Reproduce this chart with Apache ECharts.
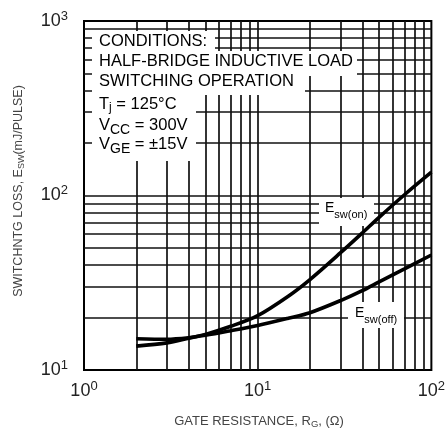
<!DOCTYPE html>
<html><head><meta charset="utf-8">
<script src="https://cdn.jsdelivr.net/npm/echarts@6/dist/echarts.min.js"></script>
<style>html,body{margin:0;padding:0;background:#fff}#c{width:448px;height:432px}</style>
</head><body><div id="c"></div>
<script>
// ---- data ----
const gateResistance = [2, 3, 4, 5, 7, 10, 15, 20, 30, 40, 50, 70, 100];
const esOn  = [13.7, 14.3, 15.2, 16.0, 17.8, 20.5, 26.5, 33, 47, 61, 75, 101, 136];
const esOff = [15.1, 15.0, 15.3, 15.8, 16.8, 18.0, 19.8, 21.3, 25, 28.5, 32, 38, 45.6];
const xTickValues = [1, 10, 100];
const xTickExps = ['0', '1', '2'];
const yTickValues = [10, 100, 1000];
const yTickExps = ['1', '2', '3'];
const xGridValues = [2, 3, 4, 5, 6, 7, 8, 9, 10, 20, 30, 40, 50, 60, 70, 80, 90];
const yGridValues = [20, 30, 40, 50, 60, 70, 80, 90, 100, 200, 300, 400, 500, 600, 700, 800, 900];
const conditionRows = [
  '{n|CONDITIONS:}',
  '{n|HALF-BRIDGE INDUCTIVE LOAD}',
  '{n|SWITCHING OPERATION}',
  '{n|T}{j|j}{n| = 125°C}',
  '{n|V}{s|CC}{n| = 300V}',
  '{n|V}{s|GE}{n| = ±15V}'
];
const xName = '{t|GATE RESISTANCE, R}{s|G}{t|, (Ω)}';
const yName = '{t|SWITCHNTG LOSS, E}{s|SW}{t|(mJ/PULSE)}';
const onLabel = '{e|E}{s|sw(on)}';
const offLabel = '{e|E}{s|sw(off)}';

// ---- chart ----
const FF = '"Liberation Sans", Arial, Helvetica, sans-serif';
const chart = echarts.init(document.getElementById('c'), null, {renderer: 'canvas'});
const tickRich = {
  a: {fontSize: 18, fontFamily: FF, color: '#222'},
  b: {fontSize: 13, fontFamily: FF, color: '#222', padding: [0, 0, 10, 0]}
};
function tickFmt(values, exps) {
  return function (v) {
    let best = 0;
    for (let i = 0; i < values.length; i++) {
      if (Math.abs(Math.log10(v) - Math.log10(values[i])) < Math.abs(Math.log10(v) - Math.log10(values[best]))) best = i;
    }
    return '{a|10}{b|' + exps[best] + '}';
  };
}
const condRich = {
  n: {fontSize: 16.5, fontFamily: FF, fill: '#000'},
  s: {fontSize: 14, fontFamily: FF, fill: '#000', padding: [10, 0, 0, 0]},
  j: {fontSize: 12, fontFamily: FF, fill: '#000', padding: [8, 0, 0, 0]}
};
const rowCenters = [41, 61, 81, 104, 125, 144];
const graphics = [
  {type: 'rect', z: 6, shape: {x: 92, y: 31, width: 123, height: 20}, style: {fill: '#fff'}},
  {type: 'rect', z: 6, shape: {x: 92, y: 51, width: 265, height: 25}, style: {fill: '#fff'}},
  {type: 'rect', z: 6, shape: {x: 92, y: 72, width: 213, height: 23}, style: {fill: '#fff'}},
  {type: 'rect', z: 6, shape: {x: 92, y: 95, width: 104, height: 66}, style: {fill: '#fff'}},
  {type: 'rect', z: 6, shape: {x: 319, y: 198, width: 55, height: 28}, style: {fill: '#fff'}},
  {type: 'rect', z: 6, shape: {x: 348, y: 302, width: 56, height: 26}, style: {fill: '#fff'}}
];
conditionRows.forEach(function (t, i) {
  graphics.push({type: 'text', z: 7, x: 99, y: rowCenters[i],
    style: {text: t, rich: condRich, textAlign: 'left', verticalAlign: 'middle', fill: '#000'}});
});
const labRich = {
  e: {fontSize: 14, fontFamily: FF, fill: '#000'},
  s: {fontSize: 11, fontFamily: FF, fill: '#000', padding: [14, 0, 0, 0]}
};
graphics.push({type: 'text', z: 7, x: 325, y: 208, style: {text: onLabel, rich: labRich, textAlign: 'left', verticalAlign: 'middle'}});
graphics.push({type: 'text', z: 7, x: 355, y: 313, style: {text: offLabel, rich: labRich, textAlign: 'left', verticalAlign: 'middle'}});
const nameRichX = {
  t: {fontSize: 13, fontFamily: FF, fill: '#444'},
  s: {fontSize: 9.5, fontFamily: FF, fill: '#444', padding: [6, 0, 0, 0]}
};
const nameRichY = {
  t: {fontSize: 12.5, fontFamily: FF, fill: '#444'},
  s: {fontSize: 9, fontFamily: FF, fill: '#444', padding: [6, 0, 0, 0]}
};
graphics.push({type: 'text', z: 7, x: 259, y: 421, style: {text: xName, rich: nameRichX, textAlign: 'center', verticalAlign: 'middle'}});
graphics.push({type: 'text', z: 7, x: 19, y: 191, rotation: Math.PI / 2,
  style: {text: yName, rich: nameRichY, textAlign: 'center', verticalAlign: 'middle'}});

const gridMarks = xGridValues.map(function (v) { return {xAxis: v}; })
  .concat(yGridValues.map(function (v) { return {yAxis: v}; }));

chart.setOption({
  animation: false,
  backgroundColor: '#fff',
  grid: {left: 84, right: 14, top: 21, bottom: 62, show: true, borderColor: '#000', borderWidth: 2, backgroundColor: '#fff'},
  xAxis: {
    type: 'log', logBase: 10, min: 1, max: 100,
    axisLine: {show: false}, axisTick: {show: false}, splitLine: {show: false},
    axisLabel: {margin: 10, formatter: tickFmt(xTickValues, xTickExps), rich: tickRich, showMinLabel: true, showMaxLabel: true}
  },
  yAxis: {
    type: 'log', logBase: 10, min: 10, max: 1000,
    axisLine: {show: false}, axisTick: {show: false}, splitLine: {show: false},
    axisLabel: {margin: 16, formatter: tickFmt(yTickValues, yTickExps), rich: tickRich, showMinLabel: true, showMaxLabel: true}
  },
  series: [
    {type: 'line', name: 'grid', data: [], z: 1, silent: true,
      markLine: {z: 3, silent: true, symbol: ['none', 'none'], label: {show: false},
        emphasis: {disabled: true},
        lineStyle: {color: '#111', width: 1.7, type: 'solid'}, data: gridMarks}},
    {type: 'line', name: 'Esw(on)', z: 10, smooth: 0.3, symbol: 'none',
      lineStyle: {color: '#000', width: 3.6},
      data: gateResistance.map(function (x, i) { return [x, esOn[i]]; })},
    {type: 'line', name: 'Esw(off)', z: 10, smooth: 0.3, symbol: 'none',
      lineStyle: {color: '#000', width: 3.6},
      data: gateResistance.map(function (x, i) { return [x, esOff[i]]; })}
  ],
  graphic: graphics
});
</script>
</body></html>
